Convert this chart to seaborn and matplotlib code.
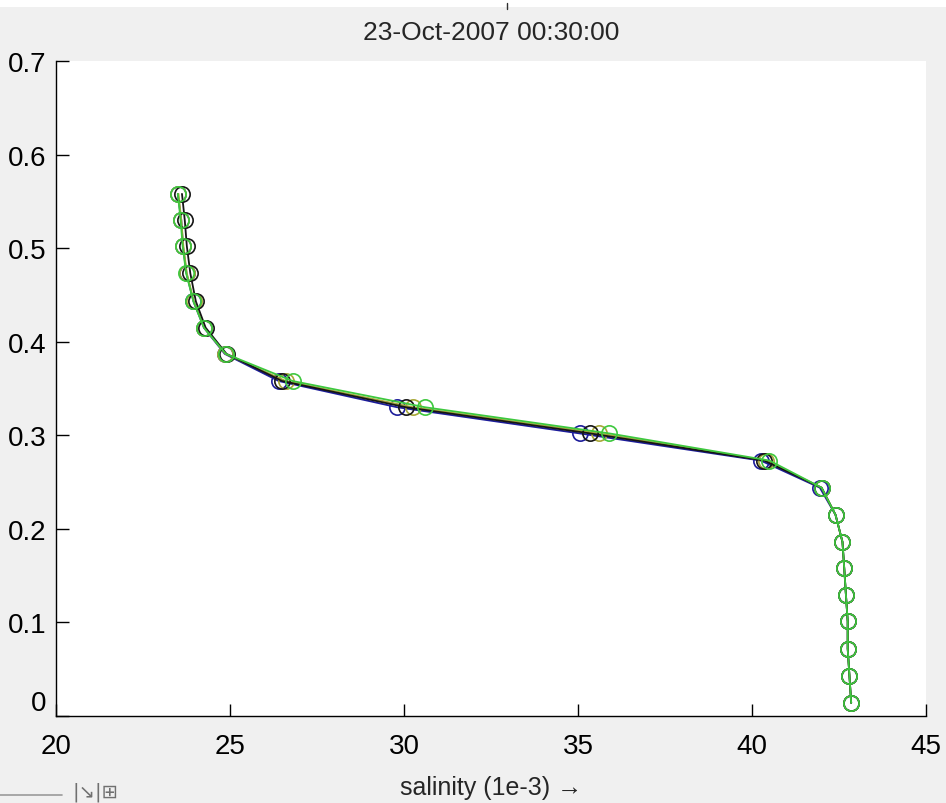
import numpy as np
import pandas as pd
import matplotlib
matplotlib.use("Agg")
import matplotlib.pyplot as plt
import seaborn as sns

# Layer-centre heights (m) shared by every profile
depth = [0.558, 0.530, 0.502, 0.473, 0.443, 0.415, 0.387, 0.358, 0.330, 0.302,
         0.273, 0.244, 0.215, 0.186, 0.158, 0.129, 0.101, 0.072, 0.043, 0.014]

# Salinity profiles (1e-3) for each run
sal_blue = [23.50, 23.60, 23.65, 23.75, 23.95, 24.25, 24.85, 26.40, 29.80, 35.05,
            40.25, 41.95, 42.40, 42.60, 42.65, 42.70, 42.75, 42.75, 42.80, 42.85]
sal_black = [23.62, 23.70, 23.76, 23.86, 24.02, 24.30, 24.90, 26.50, 30.05, 35.35,
             40.35, 42.00, 42.40, 42.60, 42.65, 42.70, 42.75, 42.75, 42.80, 42.85]
sal_olive = [23.52, 23.60, 23.66, 23.76, 23.96, 24.26, 24.87, 26.60, 30.25, 35.60,
             40.40, 42.00, 42.40, 42.60, 42.65, 42.70, 42.75, 42.75, 42.80, 42.85]
sal_green = [23.50, 23.58, 23.64, 23.74, 23.95, 24.25, 24.88, 26.80, 30.60, 35.90,
             40.50, 42.00, 42.40, 42.60, 42.65, 42.70, 42.75, 42.75, 42.80, 42.85]

runs = ["blue", "olive", "green", "black"]
profiles = [sal_blue, sal_olive, sal_green, sal_black]
colors = {"blue": "#1c1c9a", "black": "#151515", "olive": "#a8a838", "green": "#3ec83e"}

frames = [pd.DataFrame({"salinity": s, "z": depth, "run": r}) for r, s in zip(runs, profiles)]
df = pd.concat(frames, ignore_index=True)

sns.set_style("white")
plt.rcParams["font.family"] = ["Liberation Sans", "DejaVu Sans"]

fig = plt.figure(figsize=(9.46, 8.04), dpi=100)
fig.patch.set_facecolor("#f0f0f0")
ax = fig.add_axes([56 / 946, 1 - 717 / 804, 870 / 946, 655 / 804])
ax.set_facecolor("white")

zorders = {"blue": 3, "olive": 4, "black": 5, "green": 6}
for r in runs:
    sub = df[df["run"] == r]
    sns.lineplot(data=sub, x="salinity", y="z", sort=False, estimator=None,
                 color=colors[r], marker="o", markersize=11,
                 markerfacecolor="none", markeredgecolor=colors[r],
                 markeredgewidth=1.2, linewidth=1.3, ax=ax, legend=False,
                 zorder=zorders[r])

ax.set_xlim(20, 45)
ax.set_ylim(0, 0.7)
ax.set_xticks([20, 25, 30, 35, 40, 45])
ax.set_yticks([0, 0.1, 0.2, 0.3, 0.4, 0.5, 0.6, 0.7])
ax.set_yticklabels(["0", "0.1", "0.2", "0.3", "0.4", "0.5", "0.6", "0.7"])

for side in ("top", "right"):
    ax.spines[side].set_visible(False)
for side in ("left", "bottom"):
    ax.spines[side].set_color("black")
    ax.spines[side].set_linewidth(1.0)

ax.tick_params(direction="in", length=9, width=1.0, colors="black",
               labelsize=20, left=True, bottom=True)
ax.tick_params(axis="x", pad=12)
ax.tick_params(axis="y", pad=7)
ax.get_yticklabels()[0].set_verticalalignment("bottom")

ax.set_xlabel("salinity (1e-3) \u2192", fontsize=18, labelpad=12)
ax.set_ylabel("")
ax.set_title("23-Oct-2007 00:30:00", fontsize=19, pad=16)

# window strip at the very top and toolbar remnants at bottom-left
fig.patches.append(plt.Rectangle((0, 1 - 8 / 804), 1, 8 / 804, transform=fig.transFigure,
                                 facecolor="white", edgecolor="none"))
fig.add_artist(plt.Line2D([0, 62 / 946], [1 - 796 / 804] * 2, transform=fig.transFigure,
                          color="#9a9a9a", linewidth=1.2))
fig.add_artist(plt.Line2D([507 / 946, 507 / 946], [1 - 4 / 804, 1 - 10 / 804],
                          transform=fig.transFigure, color="#303030", linewidth=1.0))
fig.text(72 / 946, 1 - 792 / 804, "|\u2198|\u229e", fontsize=14, color="#707070",
         family=["DejaVu Sans"], va="center")

fig.savefig("out.png", dpi=100, facecolor=fig.get_facecolor())
